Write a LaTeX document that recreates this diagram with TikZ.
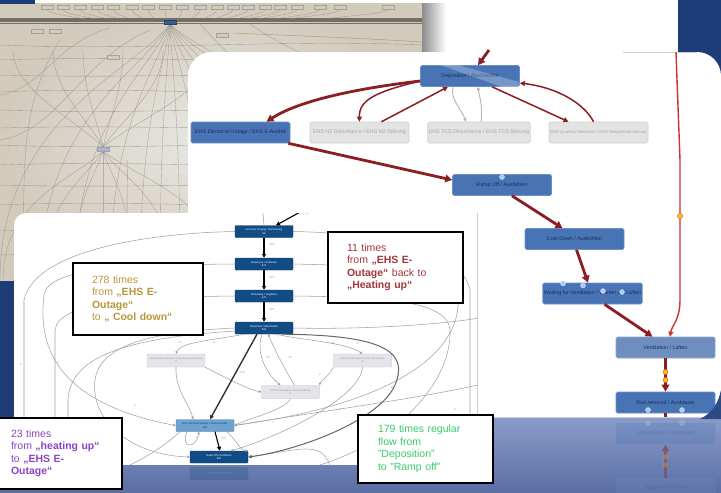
\documentclass[tikz,border=0pt]{standalone}
\usepackage{fontspec}
\setmainfont{Liberation Sans}
\usepackage{graphicx}
\usetikzlibrary{arrows.meta}

\definecolor{navy}{HTML}{1E3C78}
\definecolor{photoin}{HTML}{E8E7E4}
\definecolor{photoout}{HTML}{D2CBBC}
\definecolor{strandc}{HTML}{8E897F}
\definecolor{bandc}{HTML}{5C574E}
\definecolor{pnodef}{HTML}{CFCBBF}
\definecolor{pnoded}{HTML}{A5A295}
\definecolor{pblue}{HTML}{3A5A9A}
\definecolor{mblue}{HTML}{4874B5}
\definecolor{mbluel}{HTML}{6F8EC0}
\definecolor{mtext}{HTML}{1B2D5C}
\definecolor{mgrayf}{HTML}{E3E3E3}
\definecolor{mgrayd}{HTML}{CFCFCF}
\definecolor{mgrayt}{HTML}{A6A6A6}
\definecolor{dred}{HTML}{8A1E22}
\definecolor{bred}{HTML}{C8342F}
\definecolor{ydotf}{HTML}{F2C318}
\definecolor{ydotd}{HTML}{E0662A}
\definecolor{tokenf}{HTML}{AFCBF0}
\definecolor{tokend}{HTML}{D6E4F7}
\definecolor{glinkc}{HTML}{B5B5B5}
\definecolor{fblue}{HTML}{114C86}
\definecolor{flblue}{HTML}{6DA2D2}
\definecolor{fgrayf}{HTML}{E6E3EA}
\definecolor{fgrayd}{HTML}{C4C0C8}
\definecolor{fgrayt}{HTML}{8F8F8F}
\definecolor{fline}{HTML}{A3A3A3}
\definecolor{fmain}{HTML}{666666}
\definecolor{flab}{HTML}{9A9A9A}
\definecolor{floortop}{HTML}{8B9CC9}
\definecolor{floorbot}{HTML}{5A6EA4}
\definecolor{goldc}{HTML}{B8963A}
\definecolor{redc}{HTML}{A5353C}
\definecolor{purplec}{HTML}{8A44C4}
\definecolor{greenc}{HTML}{3ACB6A}

\tikzset{
  strand/.style={draw=strandc, line width=0.35pt, opacity=0.7},
  band/.style={draw=bandc, line width=0.6pt, opacity=0.8},
  pnode/.style={fill=pnodef, draw=pnoded, line width=0.3pt},
  mnode/.style={rectangle, rounded corners=1.5pt, fill=mblue, draw=mblue!80!white,
    line width=0.6pt, minimum width=99pt, minimum height=21pt, inner sep=1pt,
    text=mtext, font=\fontsize{5.3}{6}\selectfont},
  mgray/.style={mnode, fill=mgrayf, draw=mgrayd, text=mgrayt},
  rthick/.style={draw=dred, line width=2.8pt, -{Triangle[length=7pt,width=7.5pt]}},
  rmed/.style={draw=dred, line width=1.5pt, -{Triangle[length=5pt,width=5pt]}},
  rside/.style={draw=bred, line width=1.4pt, -{Triangle[length=5pt,width=5pt]}},
  glink/.style={draw=glinkc, line width=0.9pt, -{Triangle[length=3.5pt,width=3.5pt]}},
  ydot/.style={circle, fill=ydotf, draw=ydotd, line width=0.5pt, minimum size=5pt, inner sep=0pt},
  token/.style={circle, fill=tokenf, draw=tokend, line width=0.3pt, minimum size=5pt, inner sep=0pt},
  fnode/.style={rectangle, rounded corners=0.8pt, fill=fblue, draw=fblue!70!black,
    line width=0.4pt, minimum width=58pt, minimum height=12pt, inner sep=0.5pt,
    text=white, align=center, font=\fontsize{2.6}{3.2}\selectfont},
  fgray/.style={fnode, fill=fgrayf, draw=fgrayd, text=fgrayt, minimum height=13pt,
    font=\fontsize{2.3}{3}\selectfont},
  farrow/.style={draw=black, line width=1.1pt, -{Triangle[length=4pt,width=4pt]}},
  fcurve/.style={draw=fline, line width=0.55pt},
  fcurvea/.style={fcurve, -{Triangle[length=2.5pt,width=2.5pt]}},
  fmainc/.style={draw=fmain, line width=1pt, -{Triangle[length=3.5pt,width=3.5pt]}},
  flabel/.style={font=\fontsize{2.8}{3}\selectfont, text=flab, inner sep=0.3pt},
  notebox/.style={rectangle, draw=black, line width=1.5pt, fill=white, align=left,
    inner sep=0pt, font=\fontsize{10.5}{12.5}\selectfont},
}

\begin{document}
\begin{tikzpicture}[x=1pt,y=-1pt]
\useasboundingbox (0,0) rectangle (721,493);
\clip (0,0) rectangle (721,493);

% backdrop
\fill[navy] (0,0) rectangle (721,493);
\fill[white] (35,0) rectangle (678,52);

% photograph of the complete process map
\begin{scope}
  \clip (0,3) rectangle (422,280);
  \shade[inner color=photoin, outer color=photoout] (0,3) rectangle (422,280);
  \foreach \y/\d in {45/6, 60/-5, 75/4, 92/-6, 110/5, 128/-4, 145/6, 165/-5, 185/4, 205/-6, 230/5, 255/-4}
    \draw[strand] (0,\y) .. controls (140,{\y+\d}) and (280,{\y-\d}) .. (422,\y);
  \foreach \e in {-170,-130,-95,-60,-30,-10,10,35,65,100,140,190,240}
    \draw[strand] (170,24) .. controls ({170+0.2*\e},70) and ({170+\e},120) .. ({170+\e},280);
  \foreach \e in {-100,-60,-30,0,30,70,120}
    \draw[strand] (103,151) .. controls ({103+0.3*\e},180) and ({103+\e},200) .. ({103+\e},280);
  \foreach \e in {-90,-50,-20,20,60,110}
    \draw[strand] (103,147) .. controls ({103+0.3*\e},120) and ({103+\e},90) .. ({103+\e},50);
  \draw[strand] (0,140) .. controls (60,130) and (80,60) .. (150,30);
  \draw[strand] (0,95) .. controls (40,90) and (60,40) .. (110,28);
  \draw[strand] (20,280) .. controls (30,200) and (10,120) .. (60,40);
  \draw[strand] (250,24) .. controls (300,60) and (380,80) .. (422,120);
  \draw[strand] (200,24) .. controls (260,90) and (330,140) .. (422,170);
  \draw[draw=brown!70!gray, line width=0.45pt, opacity=0.7] (233,33) .. controls (300,36) and (360,38) .. (422,42);
  \draw[draw=brown!70!gray, line width=0.45pt, opacity=0.7] (127,160) .. controls (128,180) and (126,200) .. (128,280);
  \foreach \y in {18.5,19.5,20.5,21.5,23}
    \draw[band] (0,\y) -- (422,\y);
  \foreach \x in {47,63,80,97,113,132,148,165,182,200,217,233,248,265,280,297,320,340,388} {
    \draw[strand] (\x,9) .. controls (\x,14) and ({\x+(170-\x)*0.2},16) .. ({\x+(170-\x)*0.3},19);
    \filldraw[pnode] ({\x-6},5) rectangle ({\x+6},9);
  }
  \foreach \x/\y in {37/31, 55/31, 222/35, 113/57}
    \filldraw[pnode] ({\x-6},{\y-2}) rectangle ({\x+6},{\y+2});
  \filldraw[fill=pblue, draw=pblue!70!black, line width=0.3pt] (164,20) rectangle (176,24);
  \filldraw[fill=pblue!45!white, draw=pnoded, line width=0.3pt] (97,147) rectangle (109,151);
\end{scope}
\fill[navy] (0,0) rectangle (35,3.5);
\shade[left color=black!45, right color=white] (422,3) rectangle (446,52);

% middle screenshot: process map of the coating runs
\begin{scope}
  \clip (188,0) rectangle (721,417);
  \fill[white, rounded corners=24pt] (188,52) rectangle (721,460);
\end{scope}
\draw[mgrayd, line width=0.6pt] (623,52.5) -- (697,52.5);

\node[mnode] (dep) at (470,76) {Deposition / Abscheiden};
\begin{scope}
  \clip[rounded corners=1.5pt] (dep.south west) rectangle (dep.north east);
  \fill[white, opacity=0.25] (440,65) -- (458,65) -- (519,82) -- (519,88) -- (505,88) -- cycle;
\end{scope}
\node[mnode] (eo) at (240.5,132.5) {EHS Electrical Outage / EHS E-Ausfall};
\node[mgray] (h2) at (359.5,132.5) {EHS H2 Disturbance / EHS H2-Störung};
\node[mgray] (tcs) at (479,132.5) {EHS TCS Disturbance / EHS TCS-Störung};
\node[mgray, font=\fontsize{4.2}{5}\selectfont] (qr) at (598.5,132.5) {EHS Quantity Reduction / EHS Mengenreduzierung};
\node[mnode] (ramp) at (502,185) {Ramp Off / Ausfahren};
\node[mnode] (cool) at (574.5,239) {Cool Down / Auskühlen};
\node[mnode] (wait) at (592.5,293.5) {Waiting for Ventilation / Warten auf Lüften};
\node[mnode, fill=mbluel, draw=mbluel!80!white] (vent) at (665.5,347.5) {Ventilation / Lüften};
\node[mnode] (rod) at (665.5,402.5) {Rod removal / Ausbauen};

\coordinate (topin) at (489,50);
\coordinate (rtop) at (676,52);
\draw[rthick] (topin) -- ([xshift=8pt]dep.north);
\draw[rthick] ([yshift=-5pt]dep.west) .. controls (360,88) and (300,100) .. ([xshift=26pt]eo.north);
\draw[rmed] ([yshift=-5pt]dep.west) .. controls (375,92) and (359,100) .. (h2.north);
\draw[rmed] ([xshift=22pt]h2.north) -- ([xshift=-22pt]dep.south);
\draw[glink] ([xshift=-17pt]dep.south) .. controls (450,100) and (462,110) .. ([xshift=-13pt]tcs.north);
\draw[glink] ([xshift=2pt]tcs.north) .. controls (483,105) and (479,95) .. ([xshift=8pt]dep.south);
\draw[rmed] ([xshift=22pt]dep.south) -- ([xshift=-30pt]qr.north);
\draw[rmed] ([xshift=-5pt]qr.north) .. controls (585,105) and (560,88) .. ([yshift=-7pt]dep.east);
\draw[rthick] ([xshift=-2pt]eo.south east) -- ([yshift=5pt]ramp.west);
\draw[rthick] ([xshift=10pt]ramp.south) -- ([xshift=-12pt]cool.north);
\draw[rthick] ([xshift=2pt]cool.south) -- ([xshift=-4.5pt]wait.north);
\draw[rthick] ([xshift=12pt]wait.south) -- ([xshift=-13pt]vent.north);
\draw[rside] (rtop) -- (680,160) -- (680,300) .. controls (680,320) and (672,325) .. ([xshift=4.5pt]vent.north);
\node[ydot] (yd1) at (680,216) {};
\draw[rthick] (vent.south) -- (rod.north);
\node[ydot] (yd2) at (665.5,372) {};
\node[ydot] (yd3) at (665.5,380) {};
\coordinate (rodout) at (665.5,418);
\draw[dred, line width=2.6pt] (rod.south) -- (rodout);

\node[token] (t1) at (502,177) {};
\node[token] (t2) at (563,283.5) {};
\node[token] (t3) at (583,285.5) {};
\node[token] (t4) at (603,291) {};
\node[token] (t5) at (622,292) {};
\node[token] (t6) at (648,410) {};
\node[token] (t7) at (682,410) {};

% glossy floor with mirrored nodes
\shade[top color=floortop, bottom color=floorbot] (0,417) rectangle (721,493);
\draw[white, opacity=0.5, line width=0.6pt] (478,417) -- (721,417);
\fill[navy!85!floortop] (721,390) .. controls (718,404) and (712,413) .. (700,419) -- (721,419) -- cycle;
\node[mnode, opacity=0.25, text opacity=0.2] (rodr) at (665.5,433.5) {\scalebox{1}[-1]{Rod removal / Ausbauen}};
\node[mnode, fill=mbluel, opacity=0.25, text opacity=0.2] (ventr) at (665.5,488.5) {\scalebox{1}[-1]{Ventilation / Lüften}};
\draw[rthick, opacity=0.35] (ventr.north) -- (rodr.south);
\node[ydot, opacity=0.3] (yr1) at (665.5,457) {};
\node[ydot, opacity=0.3] (yr2) at (665.5,465) {};
\node[token, opacity=0.35] (tr1) at (648,423) {};
\node[token, opacity=0.35] (tr2) at (682,423) {};

% front screenshot: detailed process graph
\begin{scope}
  \clip (0,0) rectangle (478,465);
  \fill[white, rounded corners=12pt] (14,213) rectangle (520,520);
\end{scope}
\draw[mgrayd, line width=0.6pt] (477.5,213) -- (477.5,465);

\begin{scope}
  \clip (14,213) rectangle (477,465);
  \node[fnode] (f1) at (264,231.5) {Inert Gas Purging / Inertisierung\\88};
  \node[fnode] (f2) at (264,264) {Heating up / Aufheizen\\874};
  \node[fnode] (f3) at (264,296) {Preheating / Vorglühen\\475};
  \node[fnode] (f4) at (264,328) {Deposition / Abscheiden\\502};
  \node[fgray] (fqr) at (176,360.5) {EHS Quantity Reduction / EHS Mengenreduzierung\\21};
  \node[fgray] (ftcs) at (362.5,360.5) {EHS TCS Disturbance / EHS TCS-Störung\\70};
  \node[fgray] (fh2) at (290.5,392) {EHS H2 Disturbance / EHS H2-Störung\\37};
  \node[fnode, fill=flblue, draw=flblue!75!black, text=fblue!80!black] (feo) at (205,425.5) {EHS Electrical Outage / EHS E-Ausfall\\356};
  \node[fnode] (framp) at (219,457) {Ramp Off / Ausfahren\\890};

  % outer loops on the left
  \draw[fcurve] (f1.west) .. controls (150,233) and (35,250) .. (24,300) -- (24,465);
  \draw[fcurvea] (f2.west) .. controls (140,265) and (48,266) .. (44,295) .. controls (40,330) and (40,400) .. (feo.west);
  \draw[fcurve] (f3.west) .. controls (150,297) and (58,300) .. (55,330) -- (55,465);
  \draw[fcurvea] (f4.west) .. controls (150,332) and (100,345) .. (95,380) .. controls (90,420) and (130,455) .. (framp.west);
  \draw[fcurve] ([yshift=-3pt]f4.west) .. controls (130,338) and (70,355) .. (68,400) -- (68,465);
  % outer loops on the right
  \draw[fcurve] (f1.east) .. controls (380,233) and (462,250) .. (470,290) -- (470,465);
  \draw[fcurvea] (f2.east) .. controls (380,266) and (455,268) .. (458,300) .. controls (460,340) and (420,400) .. (feo.east);
  \draw[fcurve] (f3.east) .. controls (380,297) and (448,300) .. (450,330) .. controls (452,380) and (400,440) .. (320,465);
  \draw[fcurve] (f4.east) .. controls (380,330) and (460,322) .. (478,318);
  % fan below the deposition step
  \draw[fcurvea] ([xshift=-20pt]f4.south) .. controls (215,340) and (180,342) .. (fqr.north);
  \draw[fcurvea] ([xshift=-2pt]f4.south) .. controls (255,355) and (268,375) .. ([xshift=-10pt]fh2.north);
  \draw[fcurvea] ([xshift=4pt]fh2.north) .. controls (285,370) and (275,350) .. ([xshift=4pt]f4.south);
  \draw[fcurvea] ([xshift=12pt]f4.south) .. controls (300,340) and (345,342) .. (ftcs.north);
  \draw[fcurvea] (ftcs.south west) .. controls (330,375) and (320,382) .. (fh2.north east);
  \draw[fcurvea] (fqr.south east) .. controls (230,380) and (250,390) .. (fh2.west);
  \draw[fcurvea] (fh2.south) .. controls (285,410) and (250,418) .. (feo.east);
  \draw[fcurvea] (fqr.south) .. controls (175,390) and (190,405) .. ([xshift=-12pt]feo.north);
  \draw[fcurvea] (ftcs.south) .. controls (360,400) and (270,440) .. ([xshift=12pt]framp.north);
  \draw[fcurve] (feo.east) .. controls (330,410) and (420,398) .. (478,385);
  \draw[fcurve] ([xshift=-25pt]feo.south) .. controls (160,450) and (140,460) .. (130,465);
  \draw[fcurve] (framp.east) .. controls (300,450) and (320,440) .. (330,465);
  \draw[fcurvea] ([xshift=-18pt]feo.south) .. controls (180,448) and (196,450) .. ([xshift=-6pt]feo.south);
  \draw[fcurvea] ([xshift=22pt]feo.south) .. controls (240,445) and (240,450) .. (framp.north east);
  \coordinate (ftop) at (263,213);
  \draw[fcurve] (ftop) -- (f1.north);

  % main chain
  \coordinate (fin) at (302,211);
  \draw[farrow] (fin) -- ([xshift=12pt]f1.north);
  \draw[farrow] (f1) -- (f2);
  \draw[farrow] (f2) -- (f3);
  \draw[farrow] (f3) -- (f4);
  \draw[farrow, line width=1.4pt, draw=black!80] ([xshift=-7pt]f4.south) -- ([xshift=5pt]feo.north);
  \draw[farrow] ([xshift=10pt]feo.south) -- ([xshift=1pt]framp.north);
  \draw[fmainc] ([xshift=18pt]f4.south) .. controls (380,335) and (410,350) .. (395,385) .. controls (380,420) and (300,450) .. (framp.east);

  % transition counts
  \node[flabel] (l1) at (307,214) {88};
  \node[flabel] (l2) at (272,245) {884};
  \node[flabel] (l3) at (272,278) {475};
  \node[flabel] (l4) at (272,310) {478};
  \node[flabel] (l5) at (242,373) {278};
  \node[flabel] (l6) at (393,388) {179};
  \node[flabel] (l7) at (224,439) {872};
  \node[flabel] (l8) at (197,438) {9};
  \node[flabel] (l9) at (180,343) {23};
  \node[flabel] (l10) at (214,343) {11};
  \node[flabel] (l11) at (268,358) {35};
  \node[flabel] (l12) at (290,358) {19};
  \node[flabel] (l13) at (333,344) {29};
  \node[flabel] (l14) at (358,344) {17};
  \node[flabel] (l15) at (21,365) {2};
  \node[flabel] (l16) at (58,363) {4};
  \node[flabel] (l17) at (135,406) {6};
  \node[flabel] (l18) at (455,410) {3};
  \node[flabel] (l19) at (340,410) {5};
  \node[flabel] (l20) at (273,423) {7};
  \node[flabel] (l21) at (320,375) {2};
\end{scope}

% floor below the front screenshot
\shade[top color=floorbot!63!floortop, bottom color=floorbot] (14,465) rectangle (478,493);
\node[fnode, opacity=0.25, text opacity=0.15] (frampr) at (219,473.5) {\scalebox{1}[-1]{Ramp Off / Ausfahren}};

% annotations
\node[notebox, minimum width=130pt, minimum height=72pt, text width=92pt, text=goldc] (n278) at (138,299)
  {278 times\\from \textbf{„EHS E-}\\\textbf{Outage“}\\to \textbf{„ Cool down“}};
\node[notebox, minimum width=135pt, minimum height=71pt, text width=97pt, text=redc] (n11) at (395.5,267.5)
  {11 times\\from \textbf{„EHS E-}\\\textbf{Outage“} back to\\\textbf{„Heating up“}};
\node[notebox, minimum width=124pt, minimum height=71pt, text width=98pt, text=purplec] (n23) at (60,453.5)
  {23 times\\from \textbf{„heating up“}\\to \textbf{„EHS E-}\\\textbf{Outage“}};
\node[notebox, minimum width=135pt, minimum height=68pt, text width=95pt, text=greenc] (n179) at (425.5,449)
  {179 times regular\\flow from\\"Deposition"\\to "Ramp off"};
\end{tikzpicture}
\end{document}
